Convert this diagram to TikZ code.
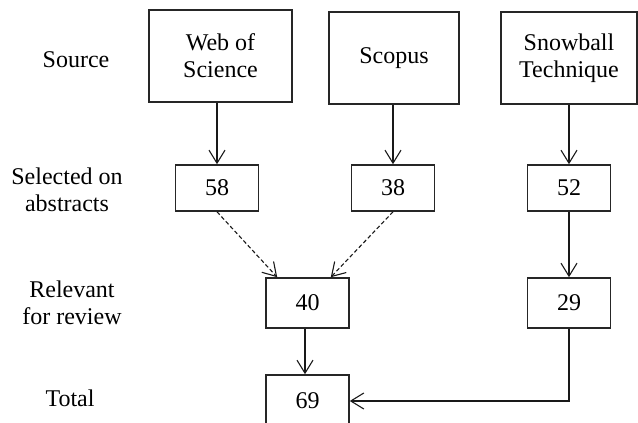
\documentclass[tikz,border=0pt]{standalone}
\usepackage{fontspec}
\setmainfont{Liberation Serif}
\usetikzlibrary{arrows.meta,positioning,calc}

\begin{document}
\begin{tikzpicture}[
    x=1pt,
    y=-1pt,
    every node/.style={font=\fontsize{24}{27}\selectfont},
    srcbox/.style={draw=black!85, line width=1.6pt, align=center, inner sep=0pt},
    numbox/.style={draw=black!85, line width=1.6pt, minimum width=83pt, minimum height=50pt, inner sep=0pt},
    rowlabel/.style={align=center},
    flow/.style={-{Straight Barb[length=13pt,width=16pt]}, draw=black!90, line width=1.1pt},
    maybe/.style={flow, dash pattern=on 4pt off 2.5pt}
  ]
    \useasboundingbox (0,0) rectangle (638,423);
    % row labels
    \node[rowlabel] (lsource) at (76,60) {Source};
    \node[rowlabel] (lselect) at (67,190) {Selected on\\abstracts};
    \node[rowlabel] (lrelev) at (72,303) {Relevant\\for review};
    \node[rowlabel] (ltotal) at (70,398) {Total};
    % sources
    \node[srcbox, minimum width=143pt, minimum height=92pt] (wos) at (220.5,56) {Web of\\Science};
    \node[srcbox, minimum width=130pt, minimum height=92pt] (scopus) at (394,58) {Scopus};
    \node[srcbox, minimum width=136pt, minimum height=92pt] (snow) at (569,58) {Snowball\\Technique};
    % counts
    \node[numbox, minimum height=46pt] (n58) at (217,188) {58};
    \node[numbox, minimum height=46pt] (n38) at (393,188) {38};
    \node[numbox, minimum height=46pt] (n52) at (569,188) {52};
    \node[numbox] (n40) at (307.5,303) {40};
    \node[numbox] (n29) at (569,303) {29};
    \node[numbox, minimum height=52pt] (n69) at (307.5,401) {69};
    % connectors
    \draw[flow] (wos.south -| n58) -- (n58);
    \draw[flow] (scopus.south -| n38) -- (n38);
    \draw[flow] (snow.south -| n52) -- (n52);
    \draw[flow] (n52) -- (n29);
    \draw[maybe] (n58.south) -- ($(n40.north west)+(12,0)$);
    \draw[maybe] (n38.south) -- ($(n40.north east)+(-19,0)$);
    \draw[flow] (n40.south -| 305,0) -- (n69.north -| 305,0);
    \draw[flow] (n29) |- (n69.east);
  \end{tikzpicture}
\end{document}
